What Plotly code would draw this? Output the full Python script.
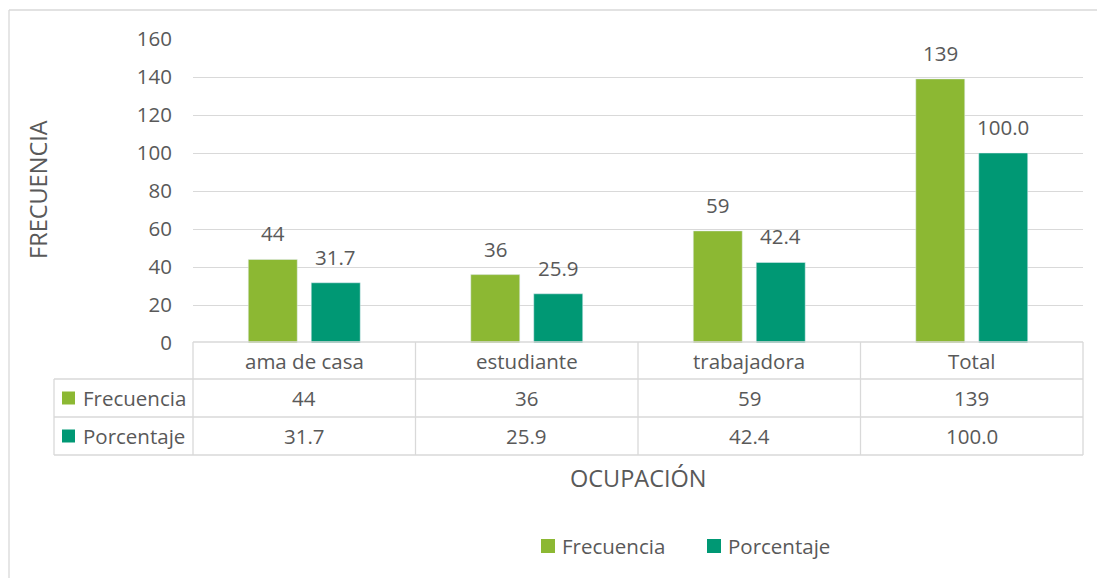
import plotly.graph_objects as go

categories = ["ama de casa", "estudiante", "trabajadora", "Total"]
frecuencia = [44, 36, 59, 139]
porcentaje = [31.7, 25.9, 42.4, 100.0]
series_names = ["Frecuencia", "Porcentaje"]
y_ticks = [0, 20, 40, 60, 80, 100, 120, 140, 160]

GREEN = "#8cb833"
TEAL = "#009874"
TXT = "#595959"
GRID = "#d9d9d9"
FONT = "Open Sans"
FS = 20.5
FS_TITLE = 23.5

O = 8  # page body margin offset
W, H = 1105 - O, 578 - O
L, R, T, B = 193 - O, 1083 - O, 39 - O, 343 - O


def px(x):
    return (x - O - L) / (R - L)


def py(y):
    return (B - (y - O)) / (B - T)


fig = go.Figure()
fig.add_bar(x=categories, y=frecuencia, name=series_names[0], marker_color=GREEN)
fig.add_bar(x=categories, y=porcentaje, name=series_names[1], marker_color=TEAL)

anns = []
shapes = []
# data labels
for c, v in zip(categories, frecuencia):
    anns.append(dict(x=c, y=v, xref="x", yref="y", text=f"{v}", showarrow=False,
                     xshift=-31.5, yshift=26, xanchor="center", yanchor="middle"))
for c, v in zip(categories, porcentaje):
    anns.append(dict(x=c, y=v, xref="x", yref="y", text=f"{v:.1f}", showarrow=False,
                     xshift=31.5, yshift=26, xanchor="center", yanchor="middle"))

# data table
rows_y = [361, 398, 436]
for c, f, p in zip(categories, frecuencia, porcentaje):
    for yy, t in zip(rows_y, [c, f"{f}", f"{p:.1f}"]):
        anns.append(dict(x=c, y=py(yy), xref="x", yref="paper", text=t, showarrow=False,
                         xanchor="center", yanchor="middle"))
for name, col, yy in zip(series_names, [GREEN, TEAL], rows_y[1:]):
    shapes.append(dict(type="rect", xref="paper", yref="paper", x0=px(62), x1=px(75),
                       y0=py(yy - 6.5), y1=py(yy + 6.5), fillcolor=col, line_width=0))
    anns.append(dict(x=px(81), y=py(yy), xref="paper", yref="paper", text=name, showarrow=False,
                     xanchor="left", yanchor="middle"))

line = dict(color=GRID, width=1.3)
hlines = [(342, 193), (379, 54), (417, 54), (455, 54)]
for yy, x0 in hlines:
    shapes.append(dict(type="line", xref="paper", yref="paper", x0=px(x0), x1=px(1083),
                       y0=py(yy), y1=py(yy), line=line))
for xx in [193, 415.5, 638, 860.5, 1083]:
    shapes.append(dict(type="line", xref="paper", yref="paper", x0=px(xx), x1=px(xx),
                       y0=py(342), y1=py(455), line=line))
shapes.append(dict(type="line", xref="paper", yref="paper", x0=px(54), x1=px(54),
                   y0=py(379), y1=py(455), line=line))

# chart frame
shapes.append(dict(type="line", xref="paper", yref="paper", x0=px(9), x1=px(1110),
                   y0=py(10), y1=py(10), line=line))
shapes.append(dict(type="line", xref="paper", yref="paper", x0=px(9), x1=px(9),
                   y0=py(10), y1=py(590), line=line))

# axis titles
anns.append(dict(x=px(38), y=py(190), xref="paper", yref="paper", text="FRECUENCIA",
                 textangle=-90, showarrow=False, xanchor="center", yanchor="middle",
                 font=dict(size=FS_TITLE)))
anns.append(dict(x=px(638), y=py(478), xref="paper", yref="paper", text="OCUPACIÓN",
                 showarrow=False, xanchor="center", yanchor="middle",
                 font=dict(size=FS_TITLE)))

# legend (bottom)
leg_y = 546
for name, col, x0 in zip(series_names, [GREEN, TEAL], [541, 707]):
    shapes.append(dict(type="rect", xref="paper", yref="paper", x0=px(x0), x1=px(x0 + 14),
                       y0=py(leg_y - 7), y1=py(leg_y + 7), fillcolor=col, line_width=0))
    anns.append(dict(x=px(x0 + 19), y=py(leg_y), xref="paper", yref="paper", text=name,
                     showarrow=False, xanchor="left", yanchor="middle"))

fig.update_layout(
    width=W, height=H,
    margin=dict(l=L, r=W - R, t=T, b=H - B, pad=0),
    paper_bgcolor="white", plot_bgcolor="white",
    font=dict(family=FONT, size=FS, color=TXT),
    barmode="group", bargap=0.434, bargroupgap=0.222,
    showlegend=False,
    annotations=anns, shapes=shapes,
)
fig.update_xaxes(range=[-0.5, 3.5], showticklabels=False, showline=False, showgrid=False,
                 zeroline=False, ticks="")
fig.update_yaxes(range=[0, 160], tickvals=y_ticks, showgrid=True, gridcolor=GRID, gridwidth=1.3,
                 zeroline=False, showline=False, ticks="", ticklabelstandoff=20)

fig.write_html("out.html")
